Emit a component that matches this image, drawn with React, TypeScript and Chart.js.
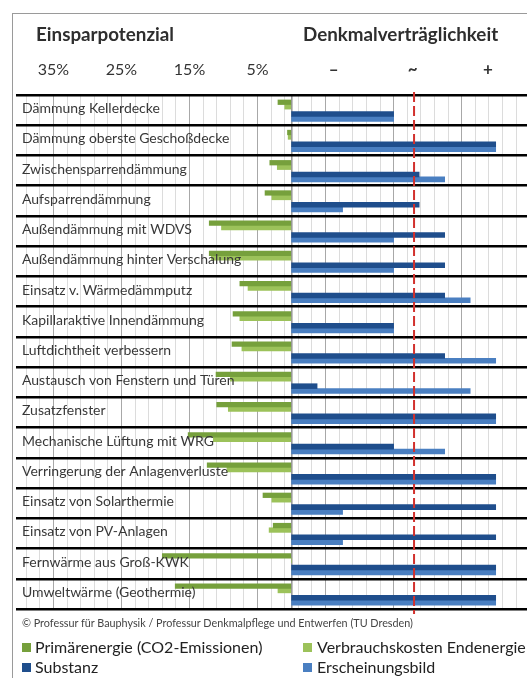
import { useEffect, useRef } from 'react';
import { Chart, registerables } from 'chart.js';

Chart.register(...registerables);

// ---- data ----
const categories = [
  'Dämmung Kellerdecke',
  'Dämmung oberste Geschoßdecke',
  'Zwischensparrendämmung',
  'Aufsparrendämmung',
  'Außendämmung mit WDVS',
  'Außendämmung hinter Verschalung',
  'Einsatz v. Wärmedämmputz',
  'Kapillaraktive Innendämmung',
  'Luftdichtheit verbessern',
  'Austausch von Fenstern und Türen',
  'Zusatzfenster',
  'Mechanische Lüftung mit WRG',
  'Verringerung der Anlagenverluste',
  'Einsatz von Solarthermie',
  'Einsatz von PV-Anlagen',
  'Fernwärme aus Groß-KWK',
  'Umweltwärme (Geothermie)',
];
// Einsparpotenzial in %
const primaerenergie = [2.0, 0.6, 3.2, 3.9, 12.1, 12.1, 7.6, 8.6, 8.75, 11.1, 11.0, 15.2, 12.4, 4.2, 2.7, 19.0, 17.1];
const verbrauchskosten = [1.0, 0.5, 2.1, 2.9, 10.3, 11.8, 6.4, 7.6, 7.3, 9.0, 9.3, 11.5, 9.5, 2.9, 3.3, 0, 2.0];
// Denkmalverträglichkeit (Punkte)
const substanz = [4, 8, 5, 5, 6, 6, 6, 4, 6, 1, 8, 4, 8, 8, 8, 8, 8];
const erscheinungsbild = [4, 8, 6, 2, 4, 4, 7, 4, 8, 7, 8, 6, 8, 2, 2, 8, 8];

const leftTickValues = [35, 25, 15, 5];
const leftTickLabels = ['35%', '25%', '15%', '5%'];
const rightTickValues = [1.65, 4.75, 7.7];
const rightTickLabels = ['–', '~', '+'];
const thresholdValue = 4.8;

// ---- layout / style ----
const W = 527;
const H = 678;
const X_MIN = -40.5;
const X_MAX = 34.6;
const PCT_PER_POINT = 3.75;
const ROW_OFFSETS = [-0.26, -0.11, 0.13, 0.29];
const C_PRIM = '#76a03c';
const C_VERB = '#9cc25a';
const C_SUB = '#1f4e8c';
const C_ERS = '#4a7fc1';

const gridValues: number[] = [0];
for (let v = -39; v <= 33; v += 2) gridValues.push(v);
gridValues.sort((a, b) => a - b);

const overlay = {
  id: 'overlay',
  afterDatasetsDraw(chart: any) {
    const { ctx, chartArea, scales } = chart;
    const y = scales.y;
    const x = scales.x;
    const xb = scales.xb;
    ctx.save();
    // threshold line
    const tx = xb.getPixelForValue(thresholdValue);
    ctx.strokeStyle = '#d2312d';
    ctx.lineWidth = 2;
    ctx.setLineDash([10, 4]);
    ctx.beginPath();
    ctx.moveTo(tx, chartArea.top - 3);
    ctx.lineTo(tx, chartArea.bottom + 5);
    ctx.stroke();
    ctx.setLineDash([]);
    // category labels inside plot
    ctx.font = '14px Lato';
    ctx.fillStyle = '#383838';
    ctx.textAlign = 'left';
    ctx.textBaseline = 'alphabetic';
    categories.forEach((c, i) => {
      ctx.fillText(c, chartArea.left + 6, y.getPixelForValue(i) + 3);
    });
    // header tick labels
    ctx.fillStyle = '#333';
    ctx.textAlign = 'center';
    ctx.font = '16px Lato';
    leftTickValues.forEach((v, i) => {
      ctx.fillText(leftTickLabels[i], x.getPixelForValue(-v), 75);
    });
    ctx.font = 'bold 17px Lato';
    rightTickValues.forEach((v, i) => {
      ctx.fillText(rightTickLabels[i], xb.getPixelForValue(v), 75);
    });
    ctx.restore();
  },
};

function bars(values: number[], sign: number, k: number) {
  return values.map((v, i) => ({ x: sign * v, y: i + ROW_OFFSETS[k] }));
}

export default function App() {
  const ref = useRef<HTMLCanvasElement>(null);
  useEffect(() => {
    const chart = new Chart(ref.current as HTMLCanvasElement, {
      type: 'bar',
      data: {
        labels: categories,
        datasets: [
          { label: 'Primärenergie (CO2-Emissionen)', data: bars(primaerenergie, -1, 0) as any, backgroundColor: C_PRIM, xAxisID: 'x', yAxisID: 'yBar', grouped: false, barThickness: 4.6, borderWidth: 0 } as any,
          { label: 'Verbrauchskosten Endenergie', data: bars(verbrauchskosten, -1, 1) as any, backgroundColor: C_VERB, xAxisID: 'x', yAxisID: 'yBar', grouped: false, barThickness: 4.6, borderWidth: 0 } as any,
          { label: 'Substanz', data: bars(substanz, 1, 2) as any, backgroundColor: C_SUB, xAxisID: 'xb', yAxisID: 'yBar', grouped: false, barThickness: 4.9, borderWidth: 0 } as any,
          { label: 'Erscheinungsbild', data: bars(erscheinungsbild, 1, 3) as any, backgroundColor: C_ERS, xAxisID: 'xb', yAxisID: 'yBar', grouped: false, barThickness: 4.9, borderWidth: 0 } as any,
        ],
      },
      options: {
        responsive: false,
        animation: false,
        indexAxis: 'y',
        layout: { padding: { left: 16, top: 95, right: 0, bottom: H - 609 } },
        plugins: { legend: { display: false }, tooltip: { enabled: false } },
        scales: {
          x: {
            type: 'linear',
            min: X_MIN,
            max: X_MAX,
            position: 'bottom',
            offset: false,
            afterBuildTicks: (s: any) => {
              s.ticks = gridValues.map((v) => ({ value: v }));
            },
            ticks: { display: false },
            grid: {
              drawTicks: false,
              offset: false,
              color: (c: any) => {
                const v = c.tick ? c.tick.value : 1;
                if (v === 0) return '#9a9a9a';
                if (Math.abs(v) % 10 === 5) return '#a8a8a8';
                return '#dcdcdc';
              },
              lineWidth: (c: any) => (c.tick && c.tick.value === 0 ? 1.6 : 1),
            },
            border: { display: false },
          } as any,
          xb: {
            type: 'linear',
            min: X_MIN / PCT_PER_POINT,
            max: X_MAX / PCT_PER_POINT,
            offset: false,
            display: false,
          },
          y: {
            type: 'category',
            labels: categories,
            offset: true,
            min: 0,
            max: categories.length - 1,
            position: 'left',
            ticks: { display: false },
            grid: { offset: true, color: '#000', lineWidth: 2.5, drawTicks: false, z: -0.5 },
            border: { display: false },
          } as any,
          yBar: {
            type: 'linear',
            min: -0.5,
            max: categories.length - 0.5,
            reverse: true,
            offset: false,
            grid: { offset: false },
            display: false,
          },
        },
      } as any,
      plugins: [overlay],
    });
    return () => chart.destroy();
  }, []);

  const abs = (s: any) => ({ position: 'absolute' as const, whiteSpace: 'nowrap' as const, ...s });
  const sq = (color: string, left: number, top: number) => (
    <div style={abs({ left, top, width: 9, height: 9, background: color })} />
  );

  return (
    <div style={{ position: 'absolute', left: 0, top: 0, width: W, height: H, overflow: 'hidden', fontFamily: 'Lato, sans-serif', color: '#222', background: '#fff' }}>
      <div style={abs({ left: 12, top: 13, right: -2, bottom: -2, borderLeft: '1px solid #9a9a9a', borderTop: '1px solid #9a9a9a' })} />
      <canvas ref={ref} width={W} height={H} style={{ position: 'absolute', left: 0, top: 0, width: W, height: H }} />
      <div style={abs({ left: 36, top: 23, fontSize: 18.8, lineHeight: '22px', fontWeight: 700, color: '#2e2e2e' })}>Einsparpotenzial</div>
      <div style={abs({ left: 303, top: 23, fontSize: 18.8, lineHeight: '22px', fontWeight: 700, color: '#2e2e2e' })}>Denkmalverträglichkeit</div>
      <div style={abs({ left: 22, top: 616, fontSize: 10.8, lineHeight: '13px', color: '#444' })}>© Professur für Bauphysik / Professur Denkmalpflege und Entwerfen (TU Dresden)</div>
      {sq(C_PRIM, 22, 643)}
      <div style={abs({ left: 35, top: 637, fontSize: 16, lineHeight: '20px' })}>Primärenergie (CO2-Emissionen)</div>
      {sq(C_VERB, 303, 643)}
      <div style={abs({ left: 317, top: 637, fontSize: 16, lineHeight: '20px' })}>Verbrauchskosten Endenergie</div>
      {sq(C_SUB, 22, 663)}
      <div style={abs({ left: 35, top: 657, fontSize: 16, lineHeight: '20px' })}>Substanz</div>
      {sq(C_ERS, 303, 663)}
      <div style={abs({ left: 317, top: 657, fontSize: 16, lineHeight: '20px' })}>Erscheinungsbild</div>
    </div>
  );
}
